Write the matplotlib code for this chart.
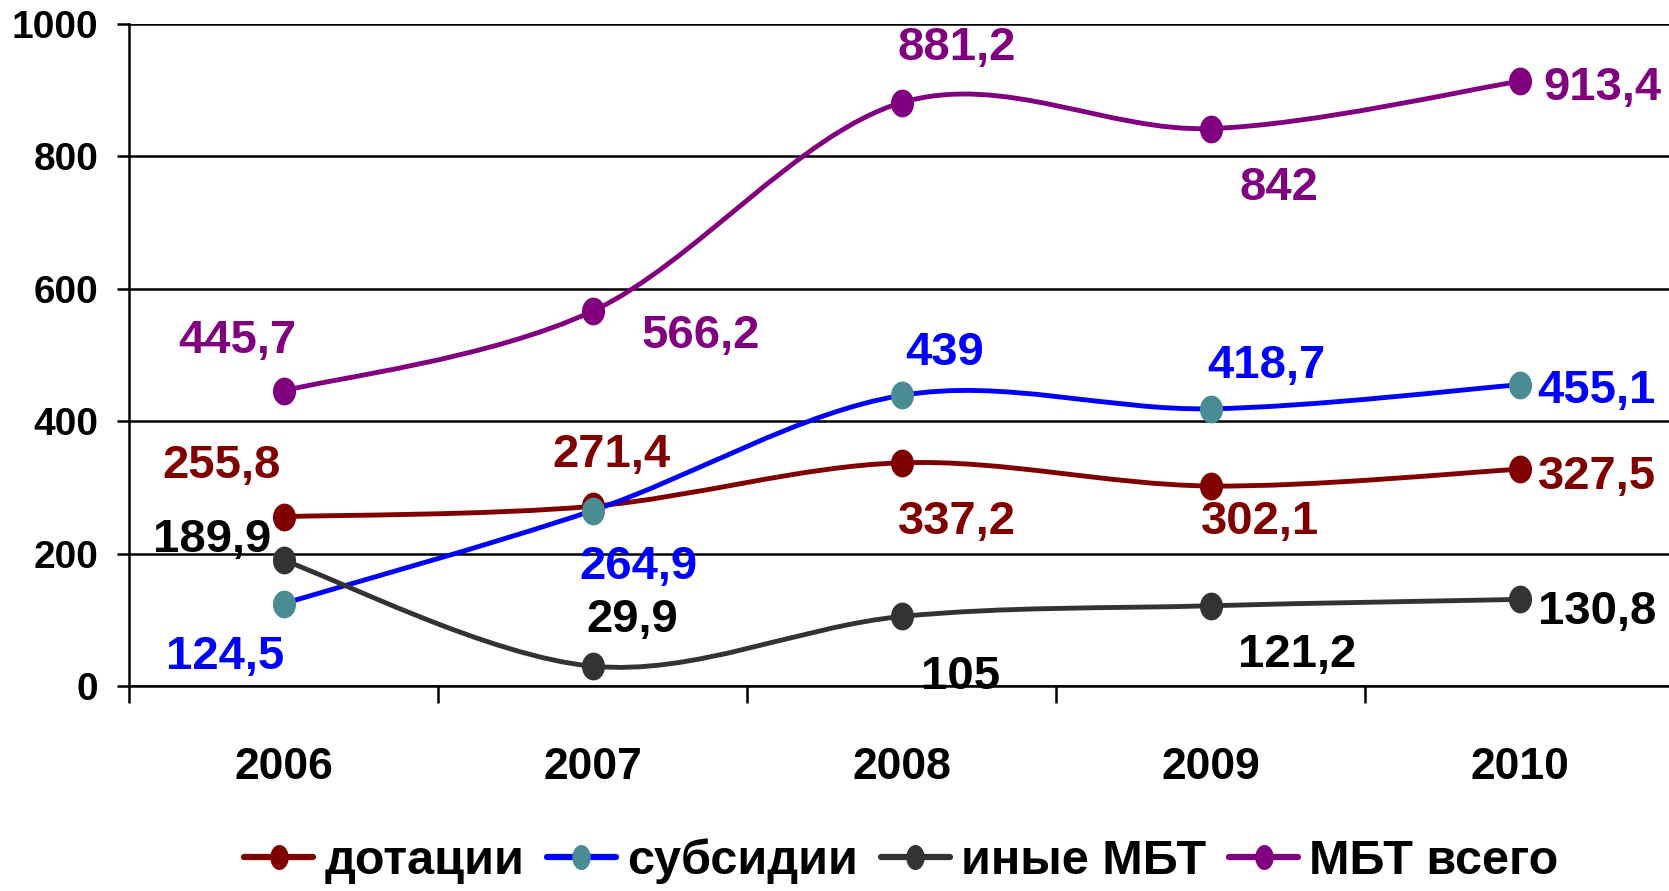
import numpy as np
import matplotlib
matplotlib.use("Agg")
import matplotlib.pyplot as plt
from matplotlib.path import Path
from matplotlib.patches import PathPatch
from matplotlib.lines import Line2D

plt.rcParams['font.family'] = ['Liberation Sans', 'DejaVu Sans']
plt.rcParams['font.weight'] = 'bold'

years = ['2006', '2007', '2008', '2009', '2010']
dotacii = [255.8, 271.4, 337.2, 302.1, 327.5]
subsidii = [124.5, 264.9, 439.0, 418.7, 455.1]
inye = [189.9, 29.9, 105.0, 121.2, 130.8]
vsego = [445.7, 566.2, 881.2, 842.0, 913.4]
series_names = ['дотации', 'субсидии', 'иные МБТ', 'МБТ всего']
y_ticks = [0, 200, 400, 600, 800, 1000]

# label offsets (x in category units, y in data units) relative to the point
lab_dotacii = [(-0.20, 77), (0.06, 77), (0.18, -90), (0.16, -55), (0.25, -12)]
lab_subsidii = [(-0.19, -80), (0.15, -85), (0.14, 64), (0.18, 64), (0.25, -10)]
lab_inye = [(-0.23, 31), (0.13, 70), (0.19, -92), (0.28, -74), (0.25, -19)]
lab_vsego = [(-0.15, 76), (0.35, -38), (0.18, 82), (0.22, -89), (0.27, -10)]

colors_line = ['#800000', '#0000FF', '#333333', '#800080']
colors_marker = ['#800000', '#4A8C94', '#333333', '#800080']
colors_text = ['#800000', '#0000FF', '#000000', '#800080']

t = np.linspace(0, 2 * np.pi, 60)
ellipse = Path(np.column_stack([0.82 * np.cos(t), np.sin(t)]), closed=True)
ellipse_leg = Path(np.column_stack([0.72 * np.cos(t), np.sin(t)]), closed=True)


def smooth_path(xs, ys):
    pts = np.column_stack([xs, ys]).astype(float)
    n = len(pts)
    verts = [pts[0]]
    codes = [Path.MOVETO]
    for i in range(n - 1):
        p0 = pts[i - 1] if i > 0 else pts[i]
        p1 = pts[i]
        p2 = pts[i + 1]
        p3 = pts[i + 2] if i + 2 < n else pts[i + 1]
        c1 = p1 + (p2 - p0) / 6.0
        c2 = p2 - (p3 - p1) / 6.0
        verts += [c1, c2, p2]
        codes += [Path.CURVE4] * 3
    return Path(verts, codes)


fig = plt.figure(figsize=(16.69, 8.91), dpi=100)
ax = fig.add_axes([129 / 1669, 205 / 891, 1545 / 1669, 662 / 891])
ax.set_xlim(-0.5, 4.5)
ax.set_ylim(0, 1000)

x = np.arange(len(years))
all_series = [dotacii, subsidii, inye, vsego]
all_labels = [lab_dotacii, lab_subsidii, lab_inye, lab_vsego]
handles = []
for k, (vals, labs) in enumerate(zip(all_series, all_labels)):
    patch = PathPatch(smooth_path(x, vals), facecolor='none', edgecolor=colors_line[k],
                      lw=3.5, zorder=3, capstyle='round')
    ax.add_patch(patch)
    ax.plot(x, vals, linestyle='none', marker=ellipse, markersize=19,
            color=colors_marker[k], zorder=4)
    for xi, v, (dx, dy) in zip(x, vals, labs):
        s = ('%g' % v).replace('.', ',')
        ax.text(xi + dx, v + dy, s, color=colors_text[k], fontsize=34,
                fontweight='bold', ha='center', va='center', zorder=5)
    handles.append(Line2D([], [], color=colors_line[k], lw=4.5, marker=ellipse_leg,
                          markersize=17, markerfacecolor=colors_marker[k],
                          markeredgecolor=colors_marker[k], solid_capstyle='round'))

ax.set_yticks(y_ticks)
ax.set_yticklabels([str(v) for v in y_ticks], fontsize=28, fontweight='bold')
ax.yaxis.grid(True, color='black', lw=1.8)
ax.set_axisbelow(True)
ax.tick_params(axis='y', length=9, width=1.8, pad=13)
ax.set_xticks(x)
ax.set_xticklabels(years, fontsize=32, fontweight='bold')
ax.set_xticks(np.arange(-0.5, 5.0, 1.0), minor=True)
ax.tick_params(axis='x', which='major', length=0, pad=44)
ax.tick_params(axis='x', which='minor', length=12, width=1.8)
for side in ['top', 'right']:
    ax.spines[side].set_visible(False)
ax.spines['left'].set_linewidth(1.8)
ax.spines['bottom'].set_linewidth(1.8)

fig.legend(handles, series_names, loc='center', bbox_to_anchor=(0.540, 0.033), ncol=4,
           frameon=False, prop={'size': 35, 'weight': 'bold'},
           handlelength=1.42, handletextpad=0.23, columnspacing=0.47, borderpad=0.1)

fig.savefig('out.png', dpi=100, facecolor='white')
